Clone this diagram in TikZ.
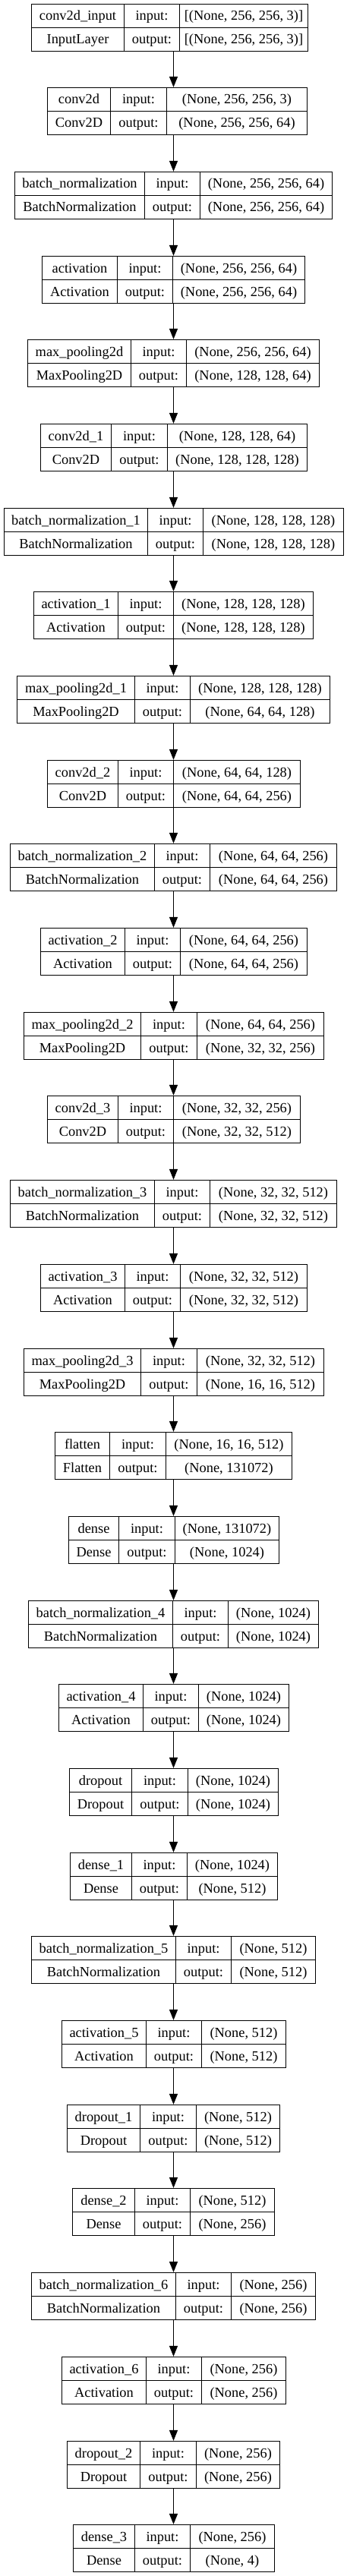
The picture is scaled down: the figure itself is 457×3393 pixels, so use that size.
\documentclass[tikz,border=0pt]{standalone}
\usepackage{fontspec}
\setmainfont{Liberation Serif}
\usetikzlibrary{arrows.meta}
\tikzset{
  layerbox/.style={draw=black, line width=1.3pt, rectangle, inner sep=0pt, minimum height=62pt},
  sepline/.style={draw=black, line width=1.3pt},
  txt/.style={font=\fontsize{18.4}{22}\selectfont, anchor=base, inner sep=0pt},
  conn/.style={draw=black, line width=1.3pt, -{Triangle[length=14pt,width=11pt]}}
}
\newcommand{\klayer}[9]{%
  \pgfmathsetmacro{\kTop}{floor(5+110.69*#1)+0.5}%
  \pgfmathsetmacro{\kA}{floor(#2)+0.5}%
  \pgfmathsetmacro{\kB}{floor(#3)+0.5}%
  \pgfmathsetmacro{\kC}{floor(#4)+0.5}%
  \pgfmathsetmacro{\kD}{floor(#5)+0.5}%
  \pgfmathsetmacro{\kCx}{(\kA+\kD)/2}%
  \pgfmathsetmacro{\kW}{\kD-\kA}%
  \node[layerbox, minimum width=\kW pt] (L#1) at (\kCx, \kTop+31) {};
  \draw[sepline] (\kB, \kTop) -- (\kB, \kTop+62);
  \draw[sepline] (\kC, \kTop) -- (\kC, \kTop+62);
  \draw[sepline] (L#1.west) -- (L#1.east);
  \node[txt] (L#1n) at ({(\kA+\kB)/2}, \kTop+21.5) {#6};
  \node[txt] (L#1t) at ({(\kA+\kB)/2}, \kTop+52.5) {#7};
  \node[txt] (L#1i) at ({(\kB+\kC)/2}, \kTop+21.5) {input:};
  \node[txt] (L#1o) at ({(\kB+\kC)/2}, \kTop+52.5) {output:};
  \node[txt] (L#1x) at ({(\kC+\kD)/2}, \kTop+21.5) {#8};
  \node[txt] (L#1y) at ({(\kC+\kD)/2}, \kTop+52.5) {#9};
}
\begin{document}
\begin{tikzpicture}[x=1pt,y=-1pt]
\useasboundingbox[fill=white] (0,0) rectangle (457,3393);
\coordinate (ax) at (228.5,0);
\klayer{0}{41.7}{163.3}{236.3}{405.7}{conv2d\_input}{InputLayer}{[(None, 256, 256, 3)]}{[(None, 256, 256, 3)]}
\klayer{1}{62.7}{145.7}{219}{404}{conv2d}{Conv2D}{(None, 256, 256, 3)}{(None, 256, 256, 64)}
\klayer{2}{19}{190}{263.3}{437.7}{batch\_normalization}{BatchNormalization}{(None, 256, 256, 64)}{(None, 256, 256, 64)}
\klayer{3}{55}{154.3}{227.3}{401.7}{activation}{Activation}{(None, 256, 256, 64)}{(None, 256, 256, 64)}
\klayer{4}{36.7}{172.7}{245.7}{420.7}{max\_pooling2d}{MaxPooling2D}{(None, 256, 256, 64)}{(None, 128, 128, 64)}
\klayer{5}{53.3}{146.7}{220}{404}{conv2d\_1}{Conv2D}{(None, 128, 128, 64)}{(None, 128, 128, 128)}
\klayer{6}{5}{194.3}{267.7}{452.3}{batch\_normalization\_1}{BatchNormalization}{(None, 128, 128, 128)}{(None, 128, 128, 128)}
\klayer{7}{44.3}{155.3}{228.7}{412.7}{activation\_1}{Activation}{(None, 128, 128, 128)}{(None, 128, 128, 128)}
\klayer{8}{22.7}{177.3}{250.3}{434.7}{max\_pooling2d\_1}{MaxPooling2D}{(None, 128, 128, 128)}{(None, 64, 64, 128)}
\klayer{9}{62}{155.3}{228.7}{395.3}{conv2d\_2}{Conv2D}{(None, 64, 64, 128)}{(None, 64, 64, 256)}
\klayer{10}{13.7}{203.3}{276.7}{443.3}{batch\_normalization\_2}{BatchNormalization}{(None, 64, 64, 256)}{(None, 64, 64, 256)}
\klayer{11}{53.3}{164}{237.3}{404}{activation\_2}{Activation}{(None, 64, 64, 256)}{(None, 64, 64, 256)}
\klayer{12}{31.3}{185.7}{259}{426}{max\_pooling2d\_2}{MaxPooling2D}{(None, 64, 64, 256)}{(None, 32, 32, 256)}
\klayer{13}{62}{155.3}{228.7}{395.3}{conv2d\_3}{Conv2D}{(None, 32, 32, 256)}{(None, 32, 32, 512)}
\klayer{14}{13.7}{203.3}{276.7}{443.3}{batch\_normalization\_3}{BatchNormalization}{(None, 32, 32, 512)}{(None, 32, 32, 512)}
\klayer{15}{53.3}{164}{237.3}{404}{activation\_3}{Activation}{(None, 32, 32, 512)}{(None, 32, 32, 512)}
\klayer{16}{31.3}{185.7}{259}{426}{max\_pooling2d\_3}{MaxPooling2D}{(None, 32, 32, 512)}{(None, 16, 16, 512)}
\klayer{17}{72.7}{144.7}{218}{384.3}{flatten}{Flatten}{(None, 16, 16, 512)}{(None, 131072)}
\klayer{18}{90}{156.7}{230}{367.3}{dense}{Dense}{(None, 131072)}{(None, 1024)}
\klayer{19}{37.7}{227.3}{300.7}{419}{batch\_normalization\_4}{BatchNormalization}{(None, 1024)}{(None, 1024)}
\klayer{20}{77.3}{188}{261.3}{380}{activation\_4}{Activation}{(None, 1024)}{(None, 1024)}
\klayer{21}{91.3}{173.7}{247.3}{366}{dropout}{Dropout}{(None, 1024)}{(None, 1024)}
\klayer{22}{92}{173.3}{246.7}{365.3}{dense\_1}{Dense}{(None, 1024)}{(None, 512)}
\klayer{23}{41.7}{231}{304.7}{415.3}{batch\_normalization\_5}{BatchNormalization}{(None, 512)}{(None, 512)}
\klayer{24}{81.3}{192}{265.3}{376}{activation\_5}{Activation}{(None, 512)}{(None, 512)}
\klayer{25}{88.7}{184.7}{258}{368.7}{dropout\_1}{Dropout}{(None, 512)}{(None, 512)}
\klayer{26}{95.7}{177}{250.3}{361.3}{dense\_2}{Dense}{(None, 512)}{(None, 256)}
\klayer{27}{41.7}{231}{304.7}{415.3}{batch\_normalization\_6}{BatchNormalization}{(None, 256)}{(None, 256)}
\klayer{28}{81.3}{192}{265.3}{376}{activation\_6}{Activation}{(None, 256)}{(None, 256)}
\klayer{29}{88.7}{184.7}{258}{368.7}{dropout\_2}{Dropout}{(None, 256)}{(None, 256)}
\klayer{30}{96}{177}{250.7}{361.3}{dense\_3}{Dense}{(None, 256)}{(None, 4)}
\foreach \i [evaluate=\i as \j using int(\i+1)] in {0,...,29} {
  \draw[conn] (L\i.south -| ax) -- (L\j.north -| ax);
}
\end{tikzpicture}
\end{document}
